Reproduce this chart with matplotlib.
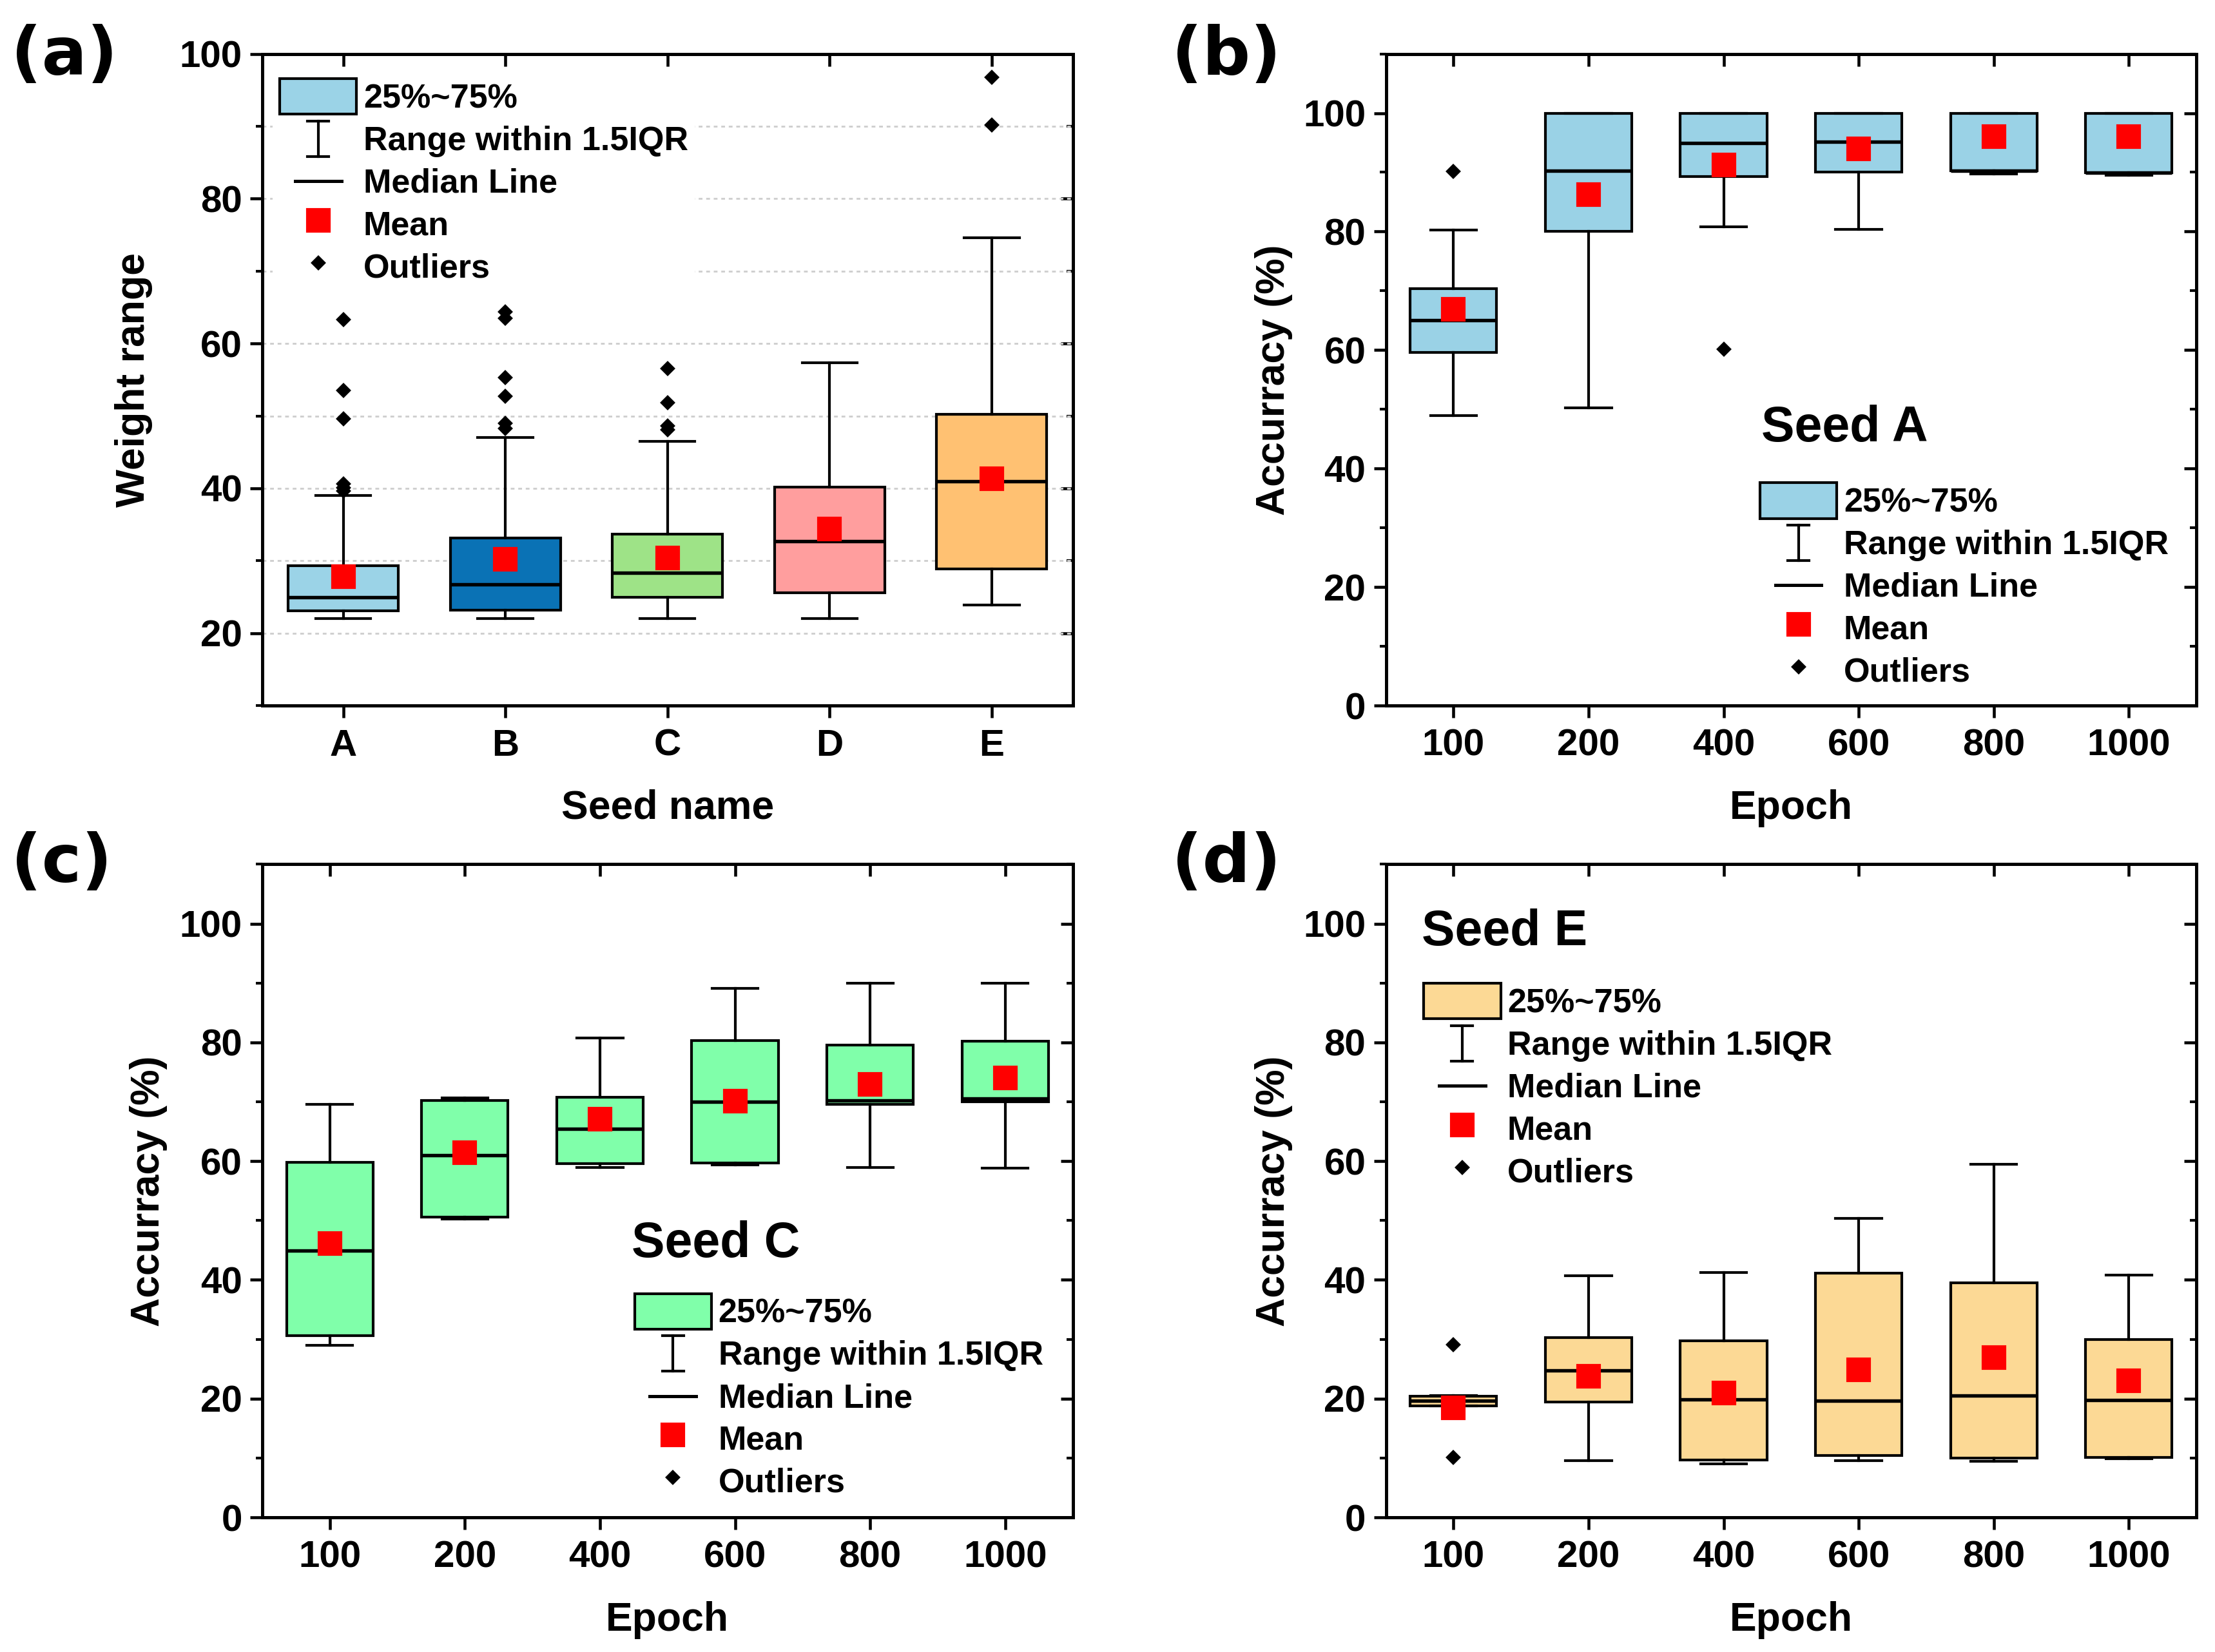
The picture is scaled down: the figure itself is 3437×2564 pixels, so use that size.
import numpy as np
import matplotlib
matplotlib.use('Agg')
import matplotlib.pyplot as plt
from matplotlib.lines import Line2D
from matplotlib.patches import Rectangle
from matplotlib.legend_handler import HandlerBase
from matplotlib.ticker import MultipleLocator

plt.rcParams['font.family'] = ['Liberation Sans', 'DejaVu Sans']
plt.rcParams['font.weight'] = 'bold'
plt.rcParams['axes.labelweight'] = 'bold'

# ---- panel (a): weight range per seed ----
seeds = ['A', 'B', 'C', 'D', 'E']
seed_colors = ['#9BD3E7', '#0A72B5', '#9EE387', '#FF9E9E', '#FFC172']
a_q1 = [23.1, 23.2, 25.0, 25.6, 28.9]
a_med = [25.0, 26.7, 28.3, 32.7, 41.0]
a_q3 = [29.3, 33.1, 33.7, 40.2, 50.2]
a_lo = [22.0, 22.0, 22.0, 22.0, 23.9]
a_hi = [39.0, 47.0, 46.5, 57.3, 74.6]
a_mean = [27.8, 30.2, 30.4, 34.4, 41.3]
a_out = [[39.6, 40.1, 40.6, 49.6, 53.5, 63.3],
         [48.3, 49.0, 52.7, 55.3, 63.5, 64.4],
         [48.1, 48.6, 51.8, 56.5],
         [],
         [90.2, 96.8]]

# ---- epochs for (b), (c), (d) ----
epochs = ['100', '200', '400', '600', '800', '1000']

# seed A
b_q1 = [59.6, 80.0, 89.3, 90.1, 90.3, 89.9]
b_med = [65.0, 90.3, 94.9, 95.2, 90.3, 89.9]
b_q3 = [70.4, 100, 100, 100, 100, 100]
b_lo = [49.0, 50.2, 80.8, 80.4, 89.7, 89.5]
b_hi = [80.3, 100, 100, 100, 100, 100]
b_mean = [66.9, 86.2, 91.2, 94.0, 96.0, 96.0]
b_out = [[90.2], [], [60.2], [], [], []]

# seed C
c_q1 = [30.6, 50.6, 59.6, 59.7, 69.6, 70.0]
c_med = [44.9, 61.0, 65.4, 70.0, 70.2, 70.5]
c_q3 = [59.8, 70.2, 70.8, 80.3, 79.6, 80.2]
c_lo = [29.0, 50.3, 58.9, 59.4, 58.9, 58.8]
c_hi = [69.6, 70.7, 80.8, 89.1, 90.0, 90.0]
c_mean = [46.1, 61.4, 67.1, 70.1, 72.9, 74.0]
c_out = [[], [], [], [], [], []]

# seed E
d_q1 = [18.8, 19.4, 9.7, 10.4, 10.0, 10.1]
d_med = [19.7, 24.7, 19.9, 19.7, 20.5, 19.8]
d_q3 = [20.4, 30.3, 29.7, 41.1, 39.5, 30.0]
d_lo = [18.8, 9.6, 9.0, 9.6, 9.5, 9.9]
d_hi = [20.5, 40.7, 41.2, 50.4, 59.5, 40.8]
d_mean = [18.5, 23.8, 21.0, 24.9, 26.9, 23.0]
d_out = [[10.1, 29.1], [], [], [], [], []]

color_b = '#9AD2E6'
color_c = '#80FFAA'
color_d = '#FCD995'


class RangeKey(object):
    pass


class MedianKey(object):
    pass


class HandlerRange(HandlerBase):
    def create_artists(self, legend, orig_handle, xdescent, ydescent,
                       width, height, fontsize, trans):
        cx = 0.5 * width - xdescent
        h = 1.0 * height
        y0 = 0.5 * height - ydescent - h / 2
        y1 = y0 + h
        cw = 0.14 * width
        arts = [Line2D([cx, cx], [y0, y1]),
                Line2D([cx - cw, cx + cw], [y0, y0]),
                Line2D([cx - cw, cx + cw], [y1, y1])]
        for l in arts:
            l.set_color('black')
            l.set_linewidth(1.0)
            l.set_transform(trans)
        return arts


class HandlerMedian(HandlerBase):
    def create_artists(self, legend, orig_handle, xdescent, ydescent,
                       width, height, fontsize, trans):
        cx = 0.5 * width - xdescent
        cy = 0.5 * height - ydescent
        l = Line2D([cx - 0.3 * width, cx + 0.3 * width], [cy, cy],
                   color='black', lw=1.2, transform=trans)
        return [l]


def make_stats(q1, med, q3, lo, hi, mean, out):
    stats = []
    for i in range(len(q1)):
        stats.append(dict(q1=q1[i], med=med[i], q3=q3[i], whislo=lo[i],
                          whishi=hi[i], mean=mean[i], fliers=out[i]))
    return stats


def draw_boxes(ax, stats, colors, width):
    pos = np.arange(1, len(stats) + 1)
    bp = ax.bxp(stats, positions=pos, widths=width, capwidths=0.34,
                patch_artist=True, showmeans=True, showfliers=True,
                boxprops=dict(edgecolor='black', linewidth=1.0),
                medianprops=dict(color='black', linewidth=1.3),
                whiskerprops=dict(color='black', linewidth=1.0),
                capprops=dict(color='black', linewidth=1.0),
                meanprops=dict(marker='s', markerfacecolor='red',
                               markeredgecolor='red', markersize=8),
                flierprops=dict(marker='D', markerfacecolor='black',
                                markeredgecolor='black', markersize=3.2))
    for patch, c in zip(bp['boxes'], colors):
        patch.set_facecolor(c)
    for m in bp['means']:
        m.set_zorder(5)
    return pos


def style_axes(ax, pos, labels, ylim, ymajor):
    ax.set_xlim(0.5, len(pos) + 0.5)
    ax.set_ylim(*ylim)
    ax.set_xticks(pos)
    ax.set_xticklabels(labels)
    ax.yaxis.set_major_locator(MultipleLocator(ymajor))
    ax.yaxis.set_minor_locator(MultipleLocator(10))
    ax.tick_params(axis='both', which='major', direction='out', length=4.5,
                   width=1.1, labelsize=14, pad=3)
    ax.tick_params(axis='x', which='major', pad=4)
    ax.tick_params(axis='y', which='minor', direction='out', length=2.5, width=1.0)
    for s in ax.spines.values():
        s.set_linewidth(1.2)
    top = ax.secondary_xaxis('top')
    top.set_xticks(pos)
    top.tick_params(direction='in', length=4.5, width=1.1, labeltop=False)
    right = ax.secondary_yaxis('right')
    right.yaxis.set_major_locator(MultipleLocator(ymajor))
    right.yaxis.set_minor_locator(MultipleLocator(10))
    right.tick_params(which='major', direction='in', length=4.5, width=1.1, labelright=False)
    right.tick_params(which='minor', direction='in', length=2.5, width=1.0, labelright=False)


def add_legend(ax, facecolor, anchor, frame=False):
    handles = [Rectangle((0, 0), 1, 1, facecolor=facecolor, edgecolor='black', lw=1.0),
               RangeKey(), MedianKey(),
               Line2D([], [], ls='none', marker='s', color='red', markersize=8),
               Line2D([], [], ls='none', marker='D', color='black', markersize=3.2)]
    labels = ['25%~75%', 'Range within 1.5IQR', 'Median Line', 'Mean', 'Outliers']
    leg = ax.legend(handles, labels, loc='upper left', bbox_to_anchor=anchor,
                    handler_map={RangeKey: HandlerRange(), MedianKey: HandlerMedian()},
                    prop=dict(size=12.5, weight='bold'), handlelength=2.3,
                    handleheight=1.25, handletextpad=0.2, labelspacing=0.185,
                    borderpad=0.2, borderaxespad=0, numpoints=1,
                    frameon=frame, fancybox=False)
    if frame:
        leg.get_frame().set_facecolor('white')
        leg.get_frame().set_edgecolor('none')
        leg.get_frame().set_alpha(1)
    return leg


fig = plt.figure(figsize=(3437 / 300, 2564 / 300), dpi=300)
ax_a = fig.add_axes([0.1184, 0.5729, 0.3659, 0.3945])
ax_b = fig.add_axes([0.6257, 0.5729, 0.3659, 0.3945])
ax_c = fig.add_axes([0.1184, 0.0815, 0.3659, 0.3953])
ax_d = fig.add_axes([0.6257, 0.0815, 0.3659, 0.3953])

# (a)
pos = draw_boxes(ax_a, make_stats(a_q1, a_med, a_q3, a_lo, a_hi, a_mean, a_out),
                 seed_colors, 0.68)
style_axes(ax_a, pos, seeds, (10, 100), 20)
ax_a.set_axisbelow(True)
ax_a.yaxis.grid(True, which='both', linestyle=(0, (2, 2)), color='#cfcfcf', lw=0.7)
ax_a.set_ylabel('Weight range', fontsize=15)
ax_a.set_xlabel('Seed name', fontsize=15)
add_legend(ax_a, seed_colors[0], (0.013, 0.972), frame=True)

# (b)
pos = draw_boxes(ax_b, make_stats(b_q1, b_med, b_q3, b_lo, b_hi, b_mean, b_out),
                 [color_b] * 6, 0.64)
style_axes(ax_b, pos, epochs, (0, 110), 20)
ax_b.set_ylabel('Accurracy (%)', fontsize=15)
ax_b.set_xlabel('Epoch', fontsize=15)
ax_b.text(0.463, 0.426, 'Seed A', transform=ax_b.transAxes, fontsize=18.5,
          fontweight='bold', va='center', ha='left')
add_legend(ax_b, color_b, (0.453, 0.352))

# (c)
pos = draw_boxes(ax_c, make_stats(c_q1, c_med, c_q3, c_lo, c_hi, c_mean, c_out),
                 [color_c] * 6, 0.64)
style_axes(ax_c, pos, epochs, (0, 110), 20)
ax_c.set_ylabel('Accurracy (%)', fontsize=15)
ax_c.set_xlabel('Epoch', fontsize=15)
ax_c.text(0.456, 0.419, 'Seed C', transform=ax_c.transAxes, fontsize=18.5,
          fontweight='bold', va='center', ha='left')
add_legend(ax_c, color_c, (0.451, 0.353))

# (d)
pos = draw_boxes(ax_d, make_stats(d_q1, d_med, d_q3, d_lo, d_hi, d_mean, d_out),
                 [color_d] * 6, 0.64)
style_axes(ax_d, pos, epochs, (0, 110), 20)
ax_d.set_ylabel('Accurracy (%)', fontsize=15)
ax_d.set_xlabel('Epoch', fontsize=15)
ax_d.text(0.044, 0.896, 'Seed E', transform=ax_d.transAxes, fontsize=18.5,
          fontweight='bold', va='center', ha='left')
add_legend(ax_d, color_d, (0.038, 0.828))

ax_a.yaxis.set_label_coords(-0.135, 0.5)
ax_b.yaxis.set_label_coords(-0.115, 0.5)
ax_c.yaxis.set_label_coords(-0.117, 0.5)
ax_d.yaxis.set_label_coords(-0.115, 0.5)
for ax in [ax_a, ax_b, ax_c, ax_d]:
    ax.xaxis.set_label_coords(0.5, -0.128)

panel_font = dict(fontsize=25, fontweight='bold', va='center', family='DejaVu Sans')
fig.text(0.005, 0.966, '(a)', **panel_font)
fig.text(0.529, 0.966, '(b)', **panel_font)
fig.text(0.005, 0.477, '(c)', **panel_font)
fig.text(0.529, 0.477, '(d)', **panel_font)

fig.savefig('out.png', dpi=300)
